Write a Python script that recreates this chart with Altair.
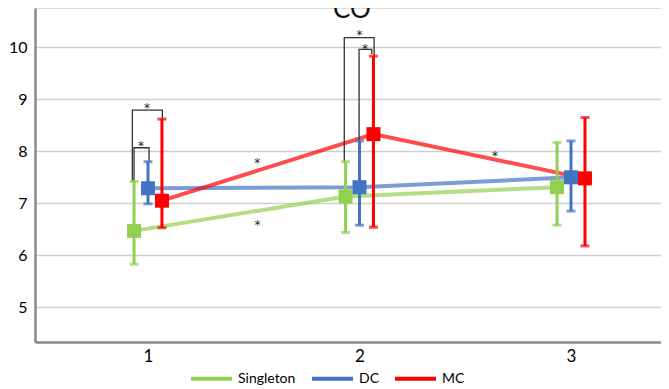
import altair as alt
import pandas as pd

# ---- data ----
groups = ["Singleton", "DC", "MC"]
times = [1, 2, 3]
offsets = [-0.066, 0.0, 0.066]
colors = ["#92D050", "#4472C4", "#FF0000"]

singleton_mean = [6.47, 7.13, 7.31]
singleton_low = [5.83, 6.44, 6.58]
singleton_high = [7.42, 7.80, 8.17]
dc_mean = [7.29, 7.31, 7.50]
dc_low = [6.99, 6.58, 6.85]
dc_high = [7.80, 8.20, 8.20]
mc_mean = [7.05, 8.33, 7.48]
mc_low = [6.53, 6.54, 6.18]
mc_high = [8.62, 9.83, 8.65]

# significance brackets: left x, right x, top y, left-end y, right-end y
br_left = [0.926, 0.934, 1.928, 1.998]
br_right = [1.068, 1.005, 2.069, 2.058]
br_top = [8.794, 8.069, 10.185, 9.96]
br_lend = [7.42, 7.42, 7.80, 8.20]
br_rend = [8.62, 7.80, 9.83, 9.87]

# stars (annotation positions)
star_x = [0.995, 0.967, 2.0, 2.026, 1.516, 1.518, 2.641]
star_y = [8.89, 8.165, 10.288, 10.03, 7.833, 6.646, 7.962]

title_text = "CO"
y_ticks = [5, 6, 7, 8, 9, 10]
x_ticks = [1, 2, 3]

# ---- tables ----
means = [singleton_mean, dc_mean, mc_mean]
lows = [singleton_low, dc_low, mc_low]
highs = [singleton_high, dc_high, mc_high]
rows = []
for gi, g in enumerate(groups):
    for ti, t in enumerate(times):
        rows.append({"group": g, "time": t, "xpos": t + offsets[gi],
                     "mean": means[gi][ti], "low": lows[gi][ti], "high": highs[gi][ti],
                     "gorder": gi})
df = pd.DataFrame(rows)
caps = pd.concat([
    df[["group", "xpos"]].assign(val=df["low"]),
    df[["group", "xpos"]].assign(val=df["high"]),
])

brows = []
for i in range(len(br_left)):
    pts = [(br_left[i], br_lend[i]), (br_left[i], br_top[i]),
           (br_right[i], br_top[i]), (br_right[i], br_rend[i])]
    for k, (bx, by) in enumerate(pts):
        brows.append({"bid": i, "k": k, "bx": bx, "by": by})
bdf = pd.DataFrame(brows)
sdf = pd.DataFrame({"sx": star_x, "sy": star_y})

FONT = "Lato"
xscale = alt.Scale(domain=[0.4657, 3.4255], nice=False, zero=False)
yscale = alt.Scale(domain=[4.333, 10.756], nice=False, zero=False)
cscale = alt.Scale(domain=groups, range=colors)

legend = alt.Legend(title=None, orient="none", legendX=154, legendY=348,
                    direction="horizontal", symbolType="stroke", symbolSize=1681,
                    symbolStrokeWidth=4, symbolOpacity=1, labelFontSize=14,
                    labelFont=FONT, labelColor="#000000", columnPadding=8,
                    padding=0, labelOffset=4)

xaxis = alt.Axis(values=x_ticks, format="d", title=None, grid=False, ticks=False,
                 labelFontSize=17, labelFont=FONT, labelColor="#000000",
                 labelPadding=6, domainColor="#8a8a8a", domainWidth=2.5)
yaxis = alt.Axis(values=y_ticks, format="d", title=None, grid=True, gridColor="#cfcfcf",
                 gridWidth=1.5, ticks=False, labelFontSize=16, labelFont=FONT,
                 labelColor="#000000", labelPadding=8, domainColor="#8a8a8a",
                 domainWidth=2.5)

base = alt.Chart(df)

lines = base.mark_line(strokeWidth=4, opacity=0.7).encode(
    x=alt.X("xpos:Q", scale=xscale, axis=xaxis),
    y=alt.Y("mean:Q", scale=yscale, axis=yaxis),
    color=alt.Color("group:N", scale=cscale, legend=legend),
    order="time:Q",
)

err = base.mark_rule(strokeWidth=3).encode(
    x="xpos:Q", y="low:Q", y2="high:Q",
    color=alt.Color("group:N", scale=cscale, legend=legend),
)

capmarks = alt.Chart(caps).mark_tick(orient="horizontal", size=9, thickness=3).encode(
    x="xpos:Q", y="val:Q",
    color=alt.Color("group:N", scale=cscale, legend=legend),
)

squares = base.mark_square(size=196, opacity=1, filled=True).encode(
    x="xpos:Q", y="mean:Q",
    color=alt.Color("group:N", scale=cscale, legend=legend),
)

brackets = alt.Chart(bdf).mark_line(color="#333333", strokeWidth=1.3).encode(
    x="bx:Q", y="by:Q", detail="bid:N", order="k:Q",
)

stars = alt.Chart(sdf).mark_text(text="*", font="DejaVu Sans", fontSize=12, color="#222222",
                                 baseline="alphabetic", dy=7).encode(
    x="sx:Q", y="sy:Q",
)

title = alt.Chart(pd.DataFrame({"t": [title_text]})).mark_text(
    font=FONT, fontSize=26, color="#111111", baseline="alphabetic", align="center"
).encode(text="t:N", x=alt.value(317), y=alt.value(10))

chart = alt.layer(lines, brackets, err, capmarks, squares, stars, title).properties(
    width=626, height=334,
    autosize=alt.AutoSizeParams(type="none"),
    padding={"left": 27, "top": 0, "right": 0, "bottom": 47},
).configure_view(stroke=None).configure(background="white")

chart.save("out.html", embed_options={"renderer": "svg", "actions": False})
